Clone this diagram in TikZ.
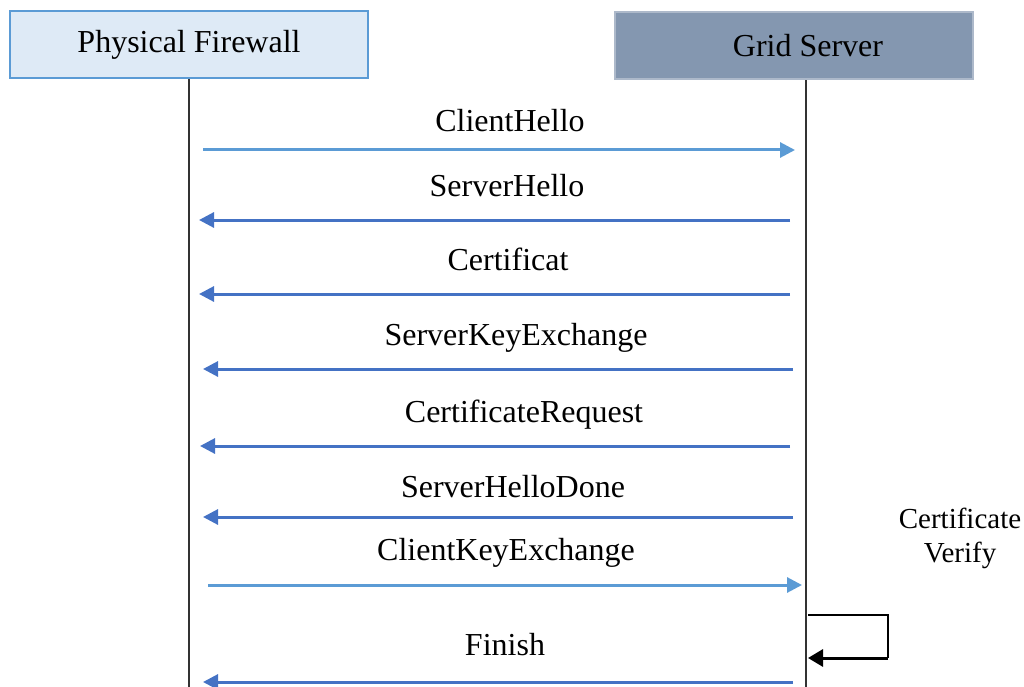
\documentclass[tikz,border=0pt]{standalone}
\usepackage{fontspec}
\setmainfont{Liberation Serif}
\usetikzlibrary{arrows.meta}
\definecolor{lightblue}{HTML}{5B9BD5}
\definecolor{darkblue}{HTML}{4472C4}
\definecolor{fwfill}{HTML}{DEEAF6}
\definecolor{gsfill}{HTML}{8497B0}
\definecolor{gsdraw}{HTML}{ADB9CA}
\begin{document}
\begin{tikzpicture}[x=1pt,y=-1pt,
  every node/.style={font=\fontsize{32}{36}\selectfont},
  actor/.style={minimum width=358pt,minimum height=67pt,inner sep=0pt,line width=2pt},
  life/.style={line width=1.2pt,draw=black!80},
  req/.style={draw=lightblue,line width=3pt,-{Triangle[length=15pt,width=15pt]}},
  resp/.style={draw=darkblue,line width=3pt,-{Triangle[length=15pt,width=15pt]}},
  msg/.style={inner sep=0pt,anchor=base}]
\useasboundingbox (0,0) rectangle (1024,687);
\node[actor,draw=lightblue,fill=fwfill] (fw) at (189,44.5) {Physical Firewall};
\node[actor,draw=gsdraw,fill=gsfill] (gs) at (794,46) {};
\node (gst) at (808,46) {Grid Server};
\coordinate (fwend) at (189,687);
\coordinate (gsend) at (806,687);
\draw[life] (fw.south -| fwend) -- (fwend);
\draw[life] (gs.south -| gsend) -- (gsend);
% messages
\coordinate (a1) at (203,150); \coordinate (b1) at (795,150);
\coordinate (a2) at (790,220); \coordinate (b2) at (199,220);
\coordinate (a3) at (790,294); \coordinate (b3) at (199,294);
\coordinate (a4) at (793,369); \coordinate (b4) at (203,369);
\coordinate (a5) at (790,446); \coordinate (b5) at (200,446);
\coordinate (a6) at (793,517); \coordinate (b6) at (203,517);
\coordinate (a7) at (208,585); \coordinate (b7) at (802,585);
\coordinate (a8) at (793,682); \coordinate (b8) at (203,682);
\draw[req] (a1) -- (b1);
\draw[resp] (a2) -- (b2);
\draw[resp] (a3) -- (b3);
\draw[resp] (a4) -- (b4);
\draw[resp] (a5) -- (b5);
\draw[resp] (a6) -- (b6);
\draw[req] (a7) -- (b7);
\draw[resp] (a8) -- (b8);
\node[msg] (l1) at (510,132) {ClientHello};
\node[msg] (l2) at (507,196) {ServerHello};
\node[msg] (l3) at (508,270) {Certificat};
\node[msg] (l4) at (516,345) {ServerKeyExchange};
\node[msg] (l5) at (524,422) {CertificateRequest};
\node[msg] (l6) at (513,497) {ServerHelloDone};
\node[msg] (l7) at (506,560) {ClientKeyExchange};
\node[msg] (l8) at (505,655) {Finish};
% self loop
\coordinate (s1) at (808,615);
\coordinate (s2) at (888,615);
\coordinate (s3) at (888,658);
\coordinate (s4) at (808,658);
\draw[line width=1.3pt] (s1) -- (s2) -- (s3);
\draw[line width=3pt,-{Triangle[length=15pt,width=17pt]}] (s3) -- (s4);
\node[align=center,font=\fontsize{29}{34}\selectfont] (cv) at (960,538) {Certificate\\Verify};
\end{tikzpicture}
\end{document}
